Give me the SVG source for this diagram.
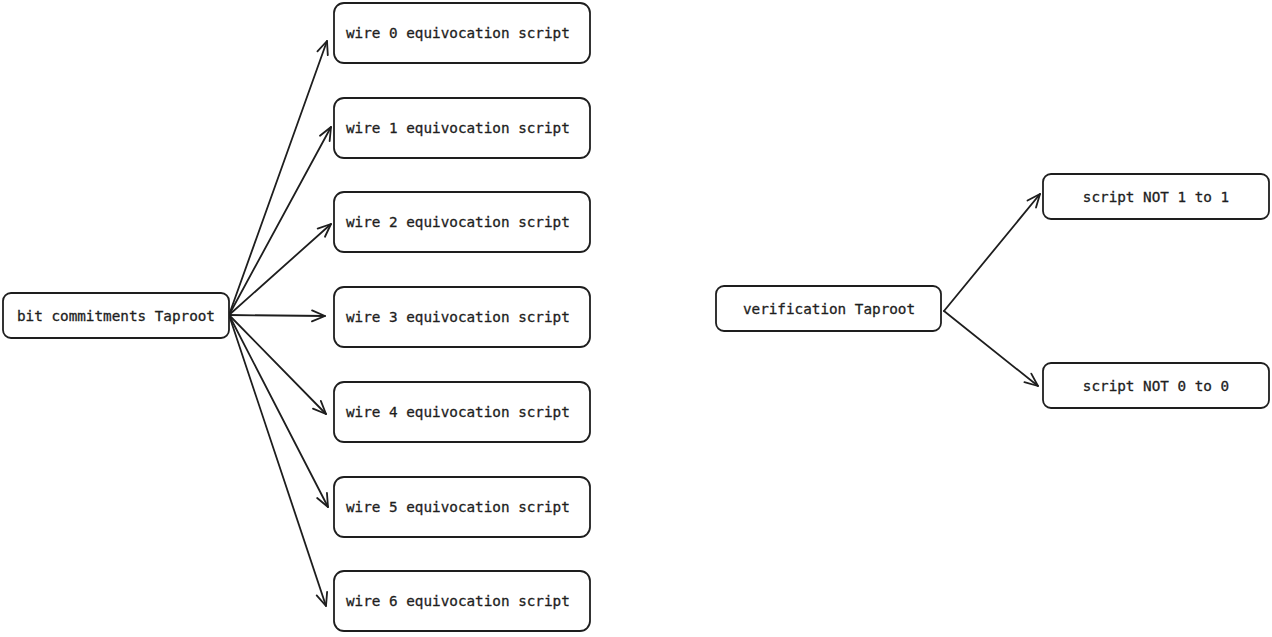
<svg xmlns="http://www.w3.org/2000/svg" width="1272" height="637" viewBox="0 0 1272 637">
<defs>
<marker id="arr" markerUnits="userSpaceOnUse" markerWidth="30" markerHeight="30" refX="0" refY="0" viewBox="-20 -15 30 30" orient="auto" overflow="visible">
<path d="M-13,-5.5 L0,0 L-13,5.5" fill="none" stroke="#1e1e1e" stroke-width="1.8" stroke-linecap="round" stroke-linejoin="round"/>
</marker>
<style>
.box{fill:#fff;stroke:#1e1e1e;stroke-width:1.8}
.t{font-family:"DejaVu Sans Mono","Liberation Mono",monospace;font-size:14.3px;fill:#1e1e1e;stroke:#1e1e1e;stroke-width:0.3;dominant-baseline:central}
.c{text-anchor:middle}
.e{fill:none;stroke:#1e1e1e;stroke-width:1.8;stroke-linecap:round;marker-end:url(#arr)}
</style>
</defs>
<rect width="1272" height="637" fill="#fff"/>
<g id="connectors">
<line class="e" x1="229" y1="315" x2="327" y2="41"/>
<line class="e" x1="229" y1="315" x2="331" y2="127"/>
<line class="e" x1="229" y1="315" x2="331" y2="224"/>
<line class="e" x1="229" y1="315" x2="325" y2="316"/>
<line class="e" x1="229" y1="315" x2="326" y2="414"/>
<line class="e" x1="229" y1="315" x2="328" y2="507"/>
<line class="e" x1="229" y1="315" x2="326" y2="606"/>
<line class="e" x1="944" y1="311" x2="1040" y2="194"/>
<line class="e" x1="944" y1="311" x2="1038" y2="386"/>
</g>
<g id="bit-commitments"><rect class="box" x="3" y="293" width="226" height="45" rx="8"/><text class="t c" x="116" y="316">bit commitments Taproot</text></g>
<g id="wire0"><rect class="box" x="334" y="3" width="256" height="60" rx="10"/><text class="t" x="346" y="33">wire 0 equivocation script</text></g>
<g id="wire1"><rect class="box" x="334" y="98" width="256" height="60" rx="10"/><text class="t" x="346" y="128">wire 1 equivocation script</text></g>
<g id="wire2"><rect class="box" x="334" y="192" width="256" height="60" rx="10"/><text class="t" x="346" y="222">wire 2 equivocation script</text></g>
<g id="wire3"><rect class="box" x="334" y="287" width="256" height="60" rx="10"/><text class="t" x="346" y="317">wire 3 equivocation script</text></g>
<g id="wire4"><rect class="box" x="334" y="382" width="256" height="60" rx="10"/><text class="t" x="346" y="412">wire 4 equivocation script</text></g>
<g id="wire5"><rect class="box" x="334" y="477" width="256" height="60" rx="10"/><text class="t" x="346" y="507">wire 5 equivocation script</text></g>
<g id="wire6"><rect class="box" x="334" y="571" width="256" height="60" rx="10"/><text class="t" x="346" y="601">wire 6 equivocation script</text></g>
<g id="verification"><rect class="box" x="716" y="286" width="225" height="45" rx="8"/><text class="t c" x="829" y="309">verification Taproot</text></g>
<g id="not11"><rect class="box" x="1043" y="174" width="226" height="45" rx="8"/><text class="t c" x="1156" y="197">script NOT 1 to 1</text></g>
<g id="not00"><rect class="box" x="1043" y="363" width="226" height="45" rx="8"/><text class="t c" x="1156" y="386">script NOT 0 to 0</text></g>
</svg>
